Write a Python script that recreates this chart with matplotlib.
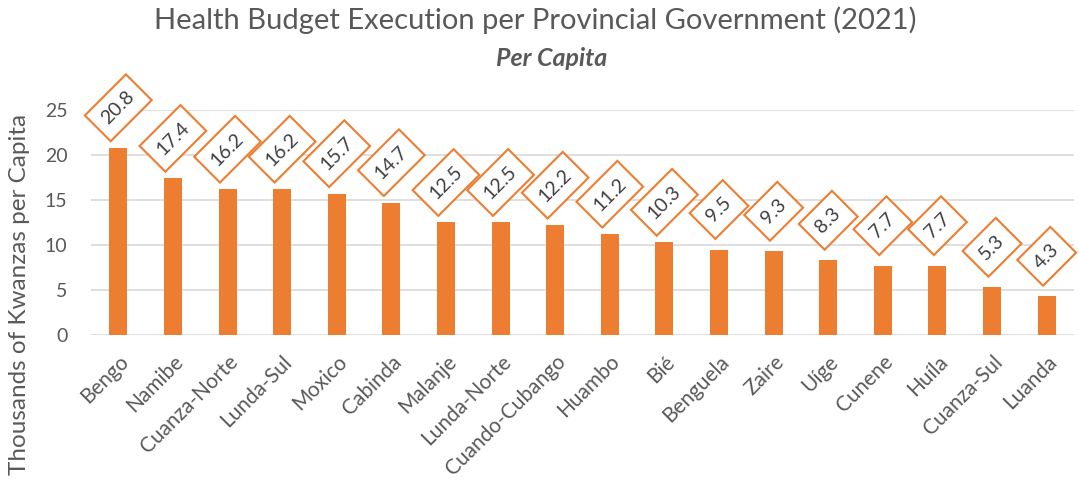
import matplotlib
matplotlib.use("Agg")
import matplotlib.pyplot as plt

plt.rcParams['font.family'] = ['Lato', 'DejaVu Sans']

provinces = ["Bengo", "Namibe", "Cuanza-Norte", "Lunda-Sul", "Moxico", "Cabinda",
             "Malanje", "Lunda-Norte", "Cuando-Cubango", "Huambo", "Bié", "Benguela",
             "Zaire", "Uíge", "Cunene", "Huíla", "Cuanza-Sul", "Luanda"]
values = [20.8, 17.4, 16.2, 16.2, 15.7, 14.7, 12.5, 12.5, 12.2, 11.2, 10.3, 9.5,
          9.3, 8.3, 7.7, 7.7, 5.3, 4.3]
yticks = [0, 5, 10, 15, 20, 25]

W, H = 1079, 486
fig = plt.figure(figsize=(W / 100, H / 100), dpi=100)
ax = fig.add_axes([91 / W, 1 - 335 / H, (1074 - 91) / W, (335 - 110) / H])

bar_color = "#ED7D31"
txt_color = "#595959"
x = list(range(len(provinces)))
ax.bar(x, values, width=0.33, color=bar_color, zorder=3)
ax.set_xlim(-0.5, len(provinces) - 0.5)
ax.set_ylim(0, 25)
ax.set_yticks(yticks)
ax.grid(axis='y', color="#D9D9D9", linewidth=1.2, zorder=0)
for s in ax.spines.values():
    s.set_visible(False)
ax.tick_params(axis='both', length=0, colors=txt_color)
ax.tick_params(axis='y', pad=17, labelsize=14)
ax.set_xticks(x)
ax.set_xticklabels(provinces, rotation=45, ha='right', rotation_mode='anchor')
ax.tick_params(axis='x', pad=12, labelsize=15)

for xi, v in zip(x, values):
    ax.annotate(f"{v:.1f}", xy=(xi, v), xytext=(0, 40), textcoords='offset pixels',
                ha='center', va='center', rotation=45, fontsize=14, color="#404040",
                bbox=dict(boxstyle='square,pad=0.5', fc='white', ec=bar_color, lw=1.5),
                zorder=5, annotation_clip=False)

fig.text(535 / W, 1 - 20 / H, "Health Budget Execution per Provincial Government (2021)",
         ha='center', va='center', fontsize=21, color=txt_color)
fig.text(552 / W, 1 - 58 / H, "Per Capita", ha='center', va='center', fontsize=18,
         color=txt_color, fontweight='bold', fontstyle='italic')
fig.text(20 / W, 1 - 294 / H, "Thousands of Kwanzas per Capita", rotation=90,
         ha='center', va='center', fontsize=17.5, color=txt_color)

fig.savefig("out.png", dpi=100)
